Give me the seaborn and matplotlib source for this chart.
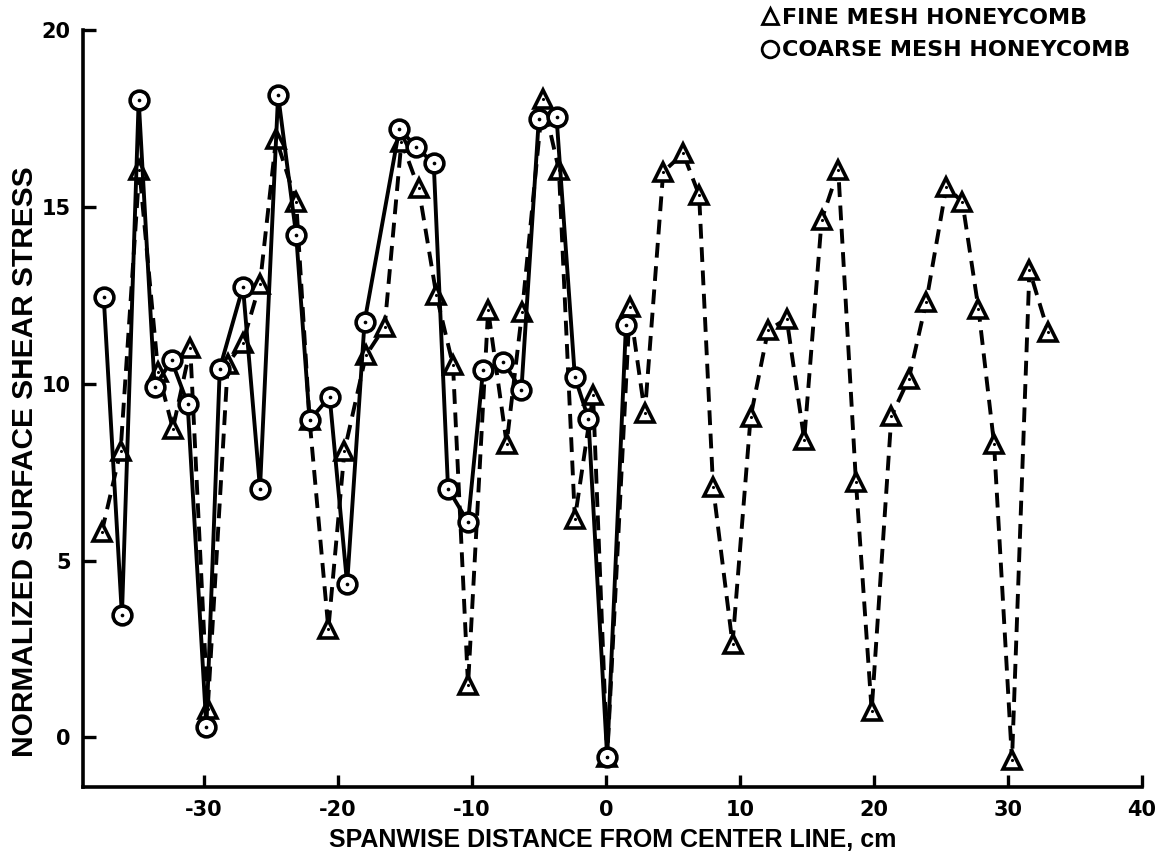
import numpy as np
import pandas as pd
import matplotlib
matplotlib.use("Agg")
import matplotlib.pyplot as plt
from matplotlib.lines import Line2D
from matplotlib import font_manager
import seaborn as sns

# Fine mesh honeycomb: spanwise position (cm) and normalized shear stress
fine_x = [-37.6, -36.2, -34.8, -33.4, -32.3, -31.0, -29.7, -28.2, -27.1, -25.8,
          -24.6, -23.1, -22.1, -20.7, -19.5, -17.9, -16.5, -15.25, -13.96, -12.64,
          -11.4, -10.28, -8.78, -7.4, -6.25, -4.7, -3.5, -2.31, -0.95, 0.1,
          1.79, 2.91, 4.28, 5.77, 6.96, 8.0, 9.45, 10.8, 12.1, 13.49,
          14.8, 16.1, 17.34, 18.66, 19.83, 21.3, 22.6, 23.9, 25.4, 26.6,
          27.8, 28.96, 30.3, 31.6, 33.0]
fine_y = [5.81, 8.1, 16.04, 10.34, 8.73, 11.0, 0.81, 10.57, 11.14, 12.83,
          16.93, 15.14, 8.97, 3.07, 8.1, 10.8, 11.61, 16.84, 15.52, 12.5,
          10.52, 1.47, 12.08, 8.31, 12.03, 18.04, 16.04, 6.18, 9.67, -0.56,
          12.17, 9.16, 15.99, 16.51, 15.33, 7.08, 2.65, 9.06, 11.51, 11.84,
          8.42, 14.64, 16.04, 7.22, 0.76, 9.08, 10.14, 12.31, 15.57, 15.14,
          12.12, 8.31, -0.65, 13.21, 11.47]

# Coarse mesh honeycomb
coarse_x = [-37.46, -36.1, -34.85, -33.66, -32.4, -31.2, -29.8, -28.8, -27.07, -25.8,
            -24.45, -23.1, -22.1, -20.6, -19.3, -18.0, -15.4, -14.13, -12.84, -11.77,
            -10.28, -9.16, -7.66, -6.3, -5.0, -3.68, -2.31, -1.3, 0.1, 1.5]
coarse_y = [12.46, 3.45, 18.02, 9.91, 10.66, 9.44, 0.29, 10.43, 12.74, 7.03,
            18.16, 14.2, 8.97, 9.63, 4.34, 11.75, 17.21, 16.68, 16.23, 7.03,
            6.09, 10.38, 10.62, 9.82, 17.48, 17.55, 10.19, 9.01, -0.56, 11.65]

x_ticks = [-30, -20, -10, 0, 10, 20, 30, 40]
y_ticks = [0, 5, 10, 15, 20]

fine = pd.DataFrame({"x": fine_x, "y": fine_y})
coarse = pd.DataFrame({"x": coarse_x, "y": coarse_y})

sns.set_style("white")
plt.rcParams["font.family"] = ["DejaVu Sans"]
plt.rcParams["font.weight"] = "bold"
plt.rcParams["text.color"] = "black"
plt.rcParams["axes.labelcolor"] = "black"
plt.rcParams["xtick.color"] = "black"
plt.rcParams["ytick.color"] = "black"

# narrow face for the axis titles when available
installed = {f.name for f in font_manager.fontManager.ttflist}
narrow = "Liberation Sans Narrow" if "Liberation Sans Narrow" in installed else "Liberation Sans"

fig = plt.figure(figsize=(11.6, 8.56), dpi=100)
ax = fig.add_axes([0.0716, 0.0806, 0.9129, 0.8844])

mk = dict(markersize=13.5, markerfacecolor="white", markeredgecolor="black",
          markeredgewidth=2.6)

sns.lineplot(data=fine, x="x", y="y", ax=ax, sort=False, color="black",
             linewidth=2.8, linestyle=(0, (3.8, 2.2)), marker="^", zorder=3, **mk)
sns.lineplot(data=coarse, x="x", y="y", ax=ax, sort=False, color="black",
             linewidth=2.8, linestyle="-", marker="o", zorder=4, **mk)

# centre dots inside the symbols
sns.scatterplot(data=fine, x="x", y="y", ax=ax, color="black", s=5,
                linewidth=0, zorder=5)
sns.scatterplot(data=coarse, x="x", y="y", ax=ax, color="black", s=7,
                linewidth=0, zorder=6)

ax.set_xlim(-39, 40)
ax.set_ylim(-1.4, 20)
ax.set_xticks(x_ticks)
ax.set_yticks(y_ticks)
ax.set_xticklabels([str(t) for t in x_ticks])
ax.set_yticklabels([str(t) for t in y_ticks])

for side in ("top", "right"):
    ax.spines[side].set_visible(False)
for side in ("left", "bottom"):
    ax.spines[side].set_linewidth(2.6)
    ax.spines[side].set_color("black")

ax.tick_params(axis="both", which="major", direction="in", length=9, width=2.4,
               color="black", labelsize=15, pad=9, bottom=True, left=True,
               top=False, right=False)
for lab in ax.get_xticklabels() + ax.get_yticklabels():
    lab.set_fontweight("bold")
    lab.set_color("black")

ax.set_xlabel("SPANWISE DISTANCE FROM CENTER LINE, cm", fontsize=18,
              fontweight="bold", family=[narrow, "DejaVu Sans"], labelpad=6,
              color="black")
ax.set_ylabel("NORMALIZED SURFACE SHEAR STRESS", fontsize=21.5,
              fontweight="bold", family=[narrow, "DejaVu Sans"],
              color="black")
ax.yaxis.set_label_coords(-0.042, 0.43)

handles = [
    Line2D([], [], linestyle="none", marker="^", markersize=12,
           markerfacecolor="white", markeredgecolor="black", markeredgewidth=2),
    Line2D([], [], linestyle="none", marker="o", markersize=12,
           markerfacecolor="white", markeredgecolor="black", markeredgewidth=2),
]
leg = fig.legend(handles, ["FINE MESH HONEYCOMB", "COARSE MESH HONEYCOMB"],
                 loc="upper left", bbox_to_anchor=(0.646, 1.006), frameon=False,
                 handlelength=0.7, handletextpad=0.15, labelspacing=0.55,
                 borderaxespad=0.2, prop={"size": 16, "weight": "bold"})
for t in leg.get_texts():
    t.set_color("black")

fig.savefig("out.png", dpi=100)
